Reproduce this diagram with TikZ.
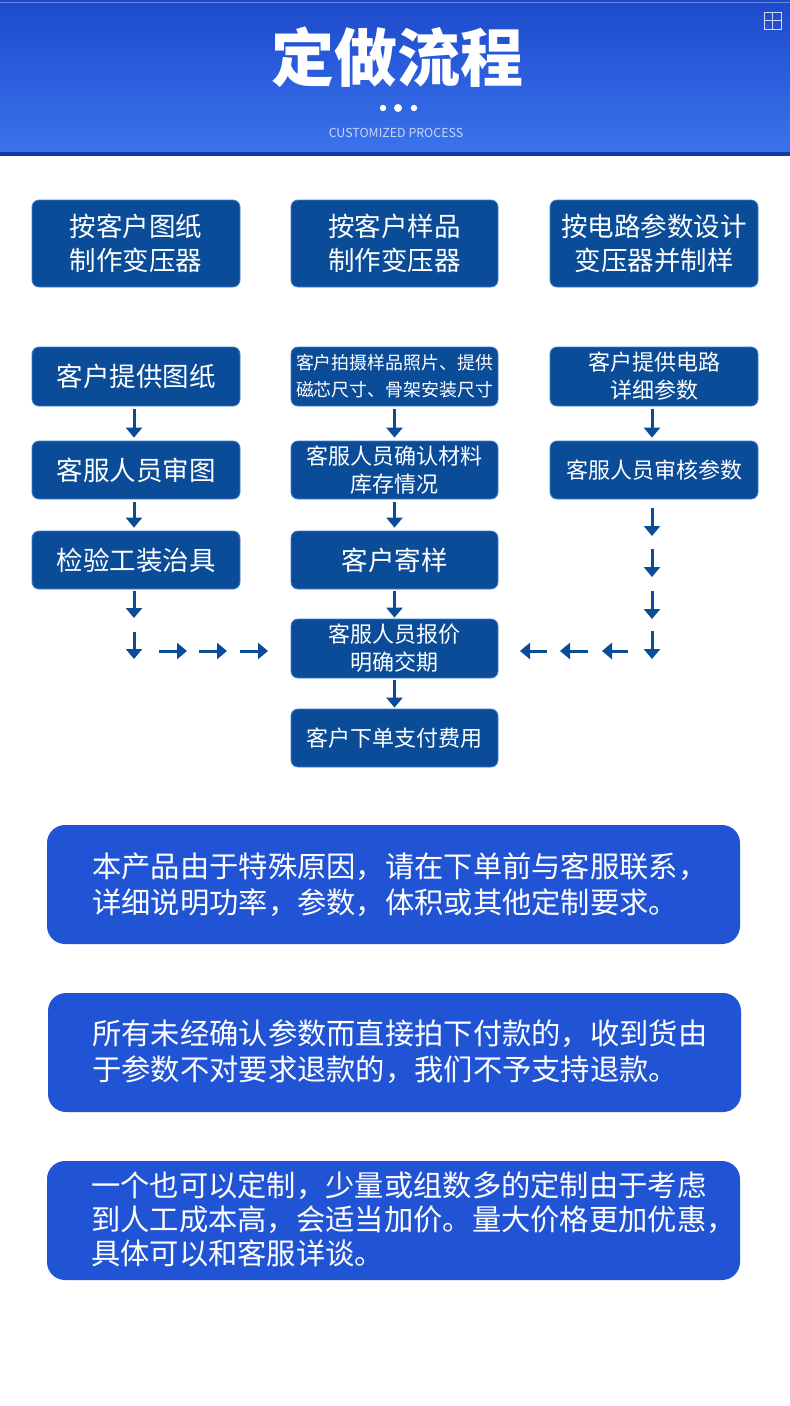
\documentclass[tikz,border=0pt]{standalone}
\usepackage{fontspec}
\setmainfont{Noto Sans CJK SC}
\usetikzlibrary{arrows.meta}
\definecolor{boxblue}{HTML}{0B4C99}
\definecolor{boxedge}{HTML}{3F7ECF}
\definecolor{notebl}{HTML}{2153D5}
\definecolor{arrowbl}{HTML}{0B4C99}
\definecolor{hdtop}{HTML}{1C4ACB}
\definecolor{hdbot}{HTML}{3B73EE}
\definecolor{hdline}{HTML}{1A3A9E}
\definecolor{subcol}{HTML}{C8D7FA}
\tikzset{
  fbox/.style={draw=boxedge, line width=0.8pt, fill=boxblue, rounded corners=7pt,
    text=white, align=center, inner sep=0pt},
  big/.style={font=\fontsize{26.5}{34}\selectfont},
  mid/.style={font=\fontsize{22}{28}\selectfont},
  sml/.style={font=\fontsize{17.9}{27}\selectfont},
  flow/.style={draw=arrowbl, line width=3pt, -{Triangle[width=16pt,length=10pt]}},
  notebox/.style={fill=notebl, rounded corners=18pt, minimum width=693pt, minimum height=119pt, inner sep=0pt},
  notetext/.style={text=white, anchor=north west, align=left, inner sep=0pt,
    font=\fontsize{29.3}{36}\selectfont},
}
\begin{document}
\begin{tikzpicture}[x=1pt,y=-1pt]
\path[use as bounding box, fill=white] (0,0) rectangle (790,1406);
% header
\shade[top color=hdtop, bottom color=hdbot] (0,0) rectangle (790,154);
\fill[hdline] (0,152) rectangle (790,156);
\fill[white, opacity=0.35] (0,2) rectangle (790,3.2);
\node[text=white, inner sep=0pt, font=\fontsize{63}{70}\bfseries\selectfont] (title) at (397,57) {定做流程};
\fill[white] (383,108) circle (3.2pt);
\fill[white] (398,108) circle (4pt);
\fill[white] (414,108) circle (3.2pt);
\node[text=subcol, inner sep=0pt, font=\fontsize{12.4}{14}\selectfont] (sub) at (396,133) {CUSTOMIZED PROCESS};
\draw[white, opacity=0.8, line width=0.7pt] (764,12) rectangle (781,29) (772.5,12) -- (772.5,29) (764,20.5) -- (781,20.5);
% row 1
\node[fbox, big, minimum width=208pt, minimum height=87pt] (a1) at (136,243.5) {按客户图纸\\制作变压器};
\node[fbox, big, minimum width=207pt, minimum height=87pt] (b1) at (394.5,243.5) {按客户样品\\制作变压器};
\node[fbox, big, minimum width=208pt, minimum height=87pt] (c1) at (654,243.5) {按电路参数设计\\变压器并制样};
% row 2
\node[fbox, big, minimum width=208pt, minimum height=59pt] (a2) at (136,376.5) {客户提供图纸};
\node[fbox, sml, minimum width=207pt, minimum height=59pt] (b2) at (394.5,376.5) {客户拍摄样品照片、提供\\磁芯尺寸、骨架安装尺寸};
\node[fbox, mid, minimum width=208pt, minimum height=59pt] (c2) at (654,376.5) {客户提供电路\\详细参数};
% row 3
\node[fbox, big, minimum width=208pt, minimum height=58pt] (a3) at (136,470) {客服人员审图};
\node[fbox, mid, minimum width=207pt, minimum height=58pt] (b3) at (394.5,470) {客服人员确认材料\\库存情况};
\node[fbox, mid, minimum width=208pt, minimum height=58pt] (c3) at (654,470) {客服人员审核参数};
% row 4
\node[fbox, big, minimum width=208pt, minimum height=58pt] (a4) at (136,560) {检验工装治具};
\node[fbox, big, minimum width=207pt, minimum height=58pt] (b4) at (394.5,560) {客户寄样};
% quote and order
\node[fbox, mid, minimum width=207pt, minimum height=59pt] (b5) at (394.5,648.5) {客服人员报价\\明确交期};
\node[fbox, mid, minimum width=207pt, minimum height=58pt] (b6) at (394.5,738) {客户下单支付费用};
% vertical arrows between boxes
\draw[flow, shorten <=3pt, shorten >=3pt] (a2.south -| 134,0) -- (a3.north -| 134,0);
\draw[flow, shorten <=3pt, shorten >=3pt] (a3.south -| 134,0) -- (a4.north -| 134,0);
\draw[flow, shorten <=3pt, shorten >=3pt] (b2) -- (b3);
\draw[flow, shorten <=3pt, shorten >=3pt] (b3) -- (b4);
\draw[flow, shorten <=2pt, shorten >=1pt] (b4) -- (b5);
\draw[flow, shorten <=2pt, shorten >=1pt] (b5) -- (b6);
\draw[flow, shorten <=3pt, shorten >=3pt] (c2.south -| 652,0) -- (c3.north -| 652,0);
% left chain
\coordinate (l1s) at (134,591); \coordinate (l1e) at (134,618);
\coordinate (l2s) at (134,632); \coordinate (l2e) at (134,659);
\coordinate (h1s) at (159,651); \coordinate (h1e) at (187,651);
\coordinate (h2s) at (199,651); \coordinate (h2e) at (227,651);
\coordinate (h3s) at (240,651); \coordinate (h3e) at (268,651);
\draw[flow] (l1s) -- (l1e);
\draw[flow] (l2s) -- (l2e);
\draw[flow] (h1s) -- (h1e);
\draw[flow] (h2s) -- (h2e);
\draw[flow] (h3s) -- (h3e);
% right chain
\coordinate (r1s) at (652,508); \coordinate (r1e) at (652,536);
\coordinate (r2s) at (652,549); \coordinate (r2e) at (652,577);
\coordinate (r3s) at (652,591); \coordinate (r3e) at (652,619);
\coordinate (r4s) at (652,631); \coordinate (r4e) at (652,659);
\coordinate (k1s) at (628,651); \coordinate (k1e) at (602,651);
\coordinate (k2s) at (588,651); \coordinate (k2e) at (560,651);
\coordinate (k3s) at (547,651); \coordinate (k3e) at (520,651);
\draw[flow] (r1s) -- (r1e);
\draw[flow] (r2s) -- (r2e);
\draw[flow] (r3s) -- (r3e);
\draw[flow] (r4s) -- (r4e);
\draw[flow] (k1s) -- (k1e);
\draw[flow] (k2s) -- (k2e);
\draw[flow] (k3s) -- (k3e);
% notes
\node[notebox] (n1) at (393.5,884.5) {};
\node[notetext] (t1) at (92,852) {本产品由于特殊原因，请在下单前与客服联系，\\详细说明功率，参数，体积或其他定制要求。};
\node[notebox] (n2) at (394.5,1052.5) {};
\node[notetext] (t2) at (92,1020) {所有未经确认参数而直接拍下付款的，收到货由\\于参数不对要求退款的，我们不予支持退款。};
\node[notebox] (n3) at (393.5,1220.5) {};
\node[notetext, font=\fontsize{29.3}{34.2}\selectfont] (t3) at (91,1171) {一个也可以定制，少量或组数多的定制由于考虑\\到人工成本高，会适当加价。量大价格更加优惠，\\具体可以和客服详谈。};
\end{tikzpicture}
\end{document}
